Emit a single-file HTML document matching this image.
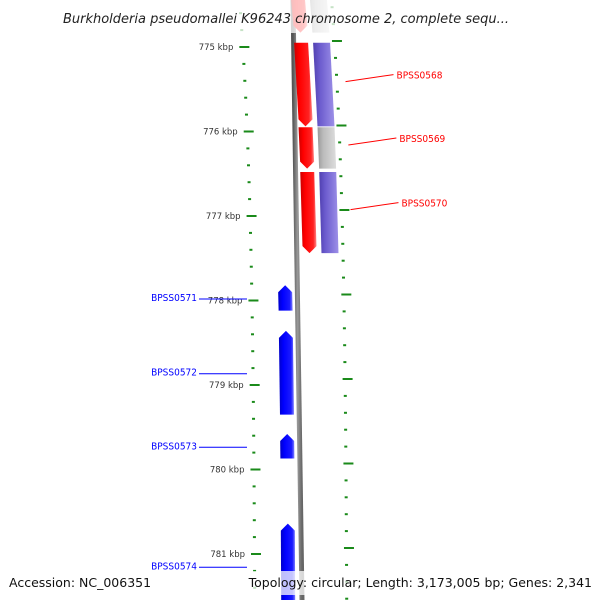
<!DOCTYPE html>
<html><head><meta charset="utf-8"><style>
body{margin:0;background:#fff;}
svg{display:block;font-family:"DejaVu Sans","Liberation Sans",sans-serif;}
</style></head><body>
<svg id="map" width="600" height="600" viewBox="0 0 600 600" xmlns="http://www.w3.org/2000/svg">
<defs>
<linearGradient id="gRed" x1="0" x2="1"><stop offset="0" stop-color="#c00"/><stop offset="0.3" stop-color="#f00"/><stop offset="0.8" stop-color="#f22"/><stop offset="1" stop-color="#f88"/></linearGradient>
<linearGradient id="gBlue" x1="0" x2="1"><stop offset="0" stop-color="#0000c8"/><stop offset="0.3" stop-color="#0000ff"/><stop offset="0.8" stop-color="#1a1aff"/><stop offset="1" stop-color="#8080ff"/></linearGradient>
<linearGradient id="gPur" x1="0" x2="1"><stop offset="0" stop-color="#5040b0"/><stop offset="0.3" stop-color="#6a5acd"/><stop offset="1" stop-color="#9d90e8"/></linearGradient>
<linearGradient id="gGrey" x1="0" x2="1"><stop offset="0" stop-color="#999"/><stop offset="0.3" stop-color="#bbb"/><stop offset="1" stop-color="#ddd"/></linearGradient>
<linearGradient id="gBack" x1="0" x2="1"><stop offset="0" stop-color="#555"/><stop offset="0.5" stop-color="#999"/><stop offset="1" stop-color="#666"/></linearGradient>
</defs>
<path d="M293 0 Q297 300 302 600" stroke="url(#gBack)" stroke-width="5" fill="none"/>
<g id="ticks"></g>
<g id="genes"></g>
<g id="labels"></g>
<rect x="0" y="0" width="600" height="33" fill="#fff" opacity="0.75"/>
<text x="286" y="23" text-anchor="middle" font-size="13" font-style="italic" fill="#222">Burkholderia pseudomallei K96243 chromosome 2, complete sequ...</text>
<rect x="0" y="571" width="600" height="24" fill="#fff" opacity="0.75"/>
<text x="9" y="587" font-size="12.5" fill="#111">Accession: NC_006351</text>
<text x="592" y="587" text-anchor="end" font-size="12.5" fill="#111">Topology: circular; Length: 3,173,005 bp; Genes: 2,341</text>
</svg>
<script>
const majorTicks=[775,776,777,778,779,780,781];
const tickLabels=["775 kbp","776 kbp","777 kbp","778 kbp","779 kbp","780 kbp","781 kbp"];
const geneNames=["","BPSS0568","BPSS0569","BPSS0570","BPSS0571","BPSS0572","BPSS0573","BPSS0574"];
const geneStart=[774.40,774.95,775.95,776.48,777.82,778.36,779.58,780.64];
const geneEnd=[774.83,775.94,776.44,777.44,778.12,779.35,779.87,781.65];
const geneStrand=[-1,-1,-1,-1,1,1,1,1];
const geneCategory=["grey","purple","grey","purple","","","",""];
const NS="http://www.w3.org/2000/svg";
const yS=k=>47+(k-775)*84.5;
const g=y=>16*(1-Math.exp(-Math.max(y,-20)/200));
function mk(tag,attrs,parent){const e=document.createElementNS(NS,tag);for(const k in attrs)e.setAttribute(k,attrs[k]);document.getElementById(parent).appendChild(e);return e;}
// ticks
for(let k=774.4;k<=781.61;k+=0.2){
  const kk=Math.round(k*5)/5;
  const major=Math.abs(kk-Math.round(kk))<1e-6;
  const y=yS(kk);
  const xl=238+g(y);
  let e=mk('line',{x1:major?xl-2:xl,x2:major?xl+8:xl+3,y1:y,y2:y,stroke:'#1a8a1a','stroke-width':2},'ticks');
  
  
  const yr=y-6, xr=330+g(yr);
  e=mk('line',{x1:major?xr-1:xr,x2:major?xr+9:xr+3,y1:yr,y2:yr,stroke:'#1a8a1a','stroke-width':2},'ticks');
  
  
}
majorTicks.forEach((k,i)=>{
  const y=yS(k);
  const t=mk('text',{x:238+g(y)-8,y:y+3,'text-anchor':'end','font-size':'8.5',fill:'#333'},'ticks');
  t.textContent=tickLabels[i];
  
  
});
function quad(x0,w,y0,y1,strand,fill,name){
  const a=g(y0),b=g(y1),h=7;let pts;
  if(strand<0){pts=[[x0+a,y0],[x0+a+w,y0],[x0+b+w,y1-h],[x0+b+w/2,y1],[x0+b,y1-h]];}
  else if(strand>0){pts=[[x0+a+w/2,y0],[x0+a+w,y0+h],[x0+b+w,y1],[x0+b,y1],[x0+a,y0+h]];}
  else{pts=[[x0+a,y0],[x0+a+w,y0],[x0+b+w,y1],[x0+b,y1]];}
  const p=mk('polygon',{points:pts.map(q=>q.join(',')).join(' '),fill:fill},'genes');
  
  
}
geneStart.forEach((s,i)=>{
  const y0=yS(s),y1=yS(geneEnd[i]);
  if(geneStrand[i]<0){
    quad(291,14,y0,y1,-1,'url(#gRed)','gene-'+(geneNames[i]||'partial').toLowerCase());
    const c=geneCategory[i];
    if(c) quad(310,17,y0,y1,0,c==='grey'?'url(#gGrey)':'url(#gPur)','category-'+c);
  } else {
    quad(266,14,y0,y1,1,'url(#gBlue)','gene-'+geneNames[i].toLowerCase());
  }
  if(geneNames[i]){
    const ym=(y0+y1)/2;
    if(geneStrand[i]<0){
      const lx=340+g(ym), ty=ym-7;
      let l=mk('line',{x1:lx,y1:ym-3,x2:lx+48,y2:ty-3,stroke:'#f00','stroke-width':1},'labels');
      
      
      const t=mk('text',{x:lx+51,y:ty+1,'font-size':'10',fill:'#f00','font-family':'DejaVu Sans Condensed, DejaVu Sans, sans-serif'},'labels');
      t.textContent=geneNames[i];
      
      
    } else {
      const ty=Math.min(ym+1,576);
      let l=mk('line',{x1:199,y1:ty,x2:247,y2:ty,stroke:'#00f','stroke-width':1},'labels');
      
      
      const t=mk('text',{x:197,y:ty+2,'text-anchor':'end','font-size':'10',fill:'#00f','font-family':'DejaVu Sans Condensed, DejaVu Sans, sans-serif'},'labels');
      t.textContent=geneNames[i];
      
      
    }
  }
});
</script>
</body></html>
